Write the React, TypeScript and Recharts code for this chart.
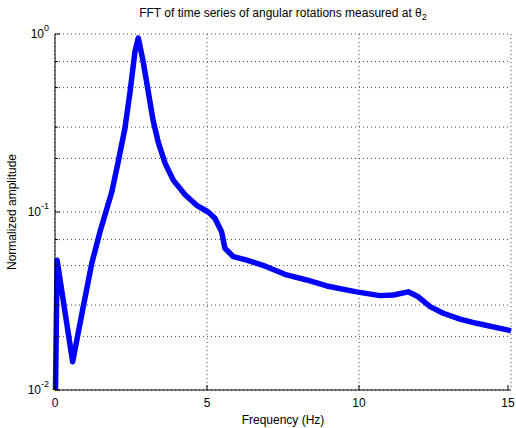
import React from 'react';
import { LineChart, Line, XAxis, YAxis, CartesianGrid } from 'recharts';

// values (log amplitude)
const freqHz = [
  0, 0.07, 0.58, 0.93, 1.21, 1.48, 1.87, 2.08, 2.30, 2.47, 2.63, 2.74, 2.90, 3.02,
  3.13, 3.23, 3.40, 3.62, 3.89, 4.28, 4.66, 5.04, 5.26, 5.48, 5.59, 5.87, 6.31, 6.96,
  7.62, 8.28, 8.94, 9.92, 10.69, 11.13, 11.62, 11.95, 12.34, 12.77, 13.32, 13.87,
  14.91, 15,
];
const amplitude = [
  0.006, 0.0535, 0.0144, 0.0294, 0.0515, 0.0774, 0.13, 0.192, 0.295, 0.474, 0.796,
  0.95, 0.7, 0.53, 0.41, 0.325, 0.245, 0.188, 0.151, 0.125, 0.109, 0.1, 0.0923,
  0.0774, 0.0625, 0.0561, 0.0537, 0.0493, 0.0443, 0.0415, 0.0384, 0.0356, 0.0339,
  0.0342, 0.0356, 0.0334, 0.0294, 0.027, 0.025, 0.0237, 0.0217, 0.0215,
];
const xTicks = [0, 5, 10, 15];
const yTicks = [
  0.01, 0.02, 0.03, 0.04, 0.05, 0.06, 0.07, 0.08, 0.09,
  0.1, 0.2, 0.3, 0.4, 0.5, 0.6, 0.7, 0.8, 0.9, 1,
];
const yMajor: Record<string, string> = { '0.01': '-2', '0.1': '-1', '1': '0' };

const data = freqHz.map((f, i) => ({ f, amp: amplitude[i] }));

const FONT = '"Liberation Sans", Arial, sans-serif';

const LeftTick = ({ x, y, payload }: any) => {
  const exp = yMajor[String(payload.value)];
  return (
    <g>
      <line x1={x} x2={x + (exp ? 5 : 3)} y1={y} y2={y} stroke="#000" />
      {exp && (
        <text x={x - 6} y={y + 4} textAnchor="end" fontSize={12} fill="#000" fontFamily={FONT}>
          <tspan>10</tspan>
          <tspan dy={-7} fontSize={9}>{exp}</tspan>
        </text>
      )}
    </g>
  );
};

const RightTick = ({ x, y, payload }: any) => {
  const major = yMajor[String(payload.value)];
  return <line x1={x} x2={x - (major ? 5 : 3)} y1={y} y2={y} stroke="#000" />;
};

const BottomTick = ({ x, y, payload }: any) => (
  <g>
    <line x1={x} x2={x} y1={y} y2={y - 5} stroke="#000" />
    <text x={x} y={y + 17} textAnchor="middle" fontSize={12} fill="#000" fontFamily={FONT}>
      {payload.value}
    </text>
  </g>
);

const TopTick = ({ x, y }: any) => <line x1={x} x2={x} y1={y} y2={y + 5} stroke="#000" />;

export default function App() {
  return (
    <div style={{ position: 'absolute', left: 0, top: 0, width: 516, height: 428, background: '#fff', fontFamily: FONT }}>
      <div style={{ position: 'absolute', left: 55, width: 456, top: 6, textAlign: 'center', fontSize: 12, color: '#000' }}>
        FFT of time series of angular rotations measured at θ<sub style={{ fontSize: 9 }}>2</sub>
      </div>
      <div style={{ position: 'absolute', left: 55, width: 456, top: 413, textAlign: 'center', fontSize: 12, color: '#000' }}>
        Frequency (Hz)
      </div>
      <div
        style={{
          position: 'absolute', left: 12, top: 212, fontSize: 12, color: '#000', whiteSpace: 'nowrap',
          transform: 'translate(-50%, -50%) rotate(-90deg)',
        }}
      >
        Normalized amplitude
      </div>
      <LineChart width={516} height={428} data={data} margin={{ top: 34, right: 5, left: 0, bottom: 0 }}>
        <CartesianGrid stroke="#444" strokeDasharray="1 3" />
        <XAxis
          dataKey="f" type="number" domain={[0, 15]} ticks={xTicks} height={38}
          axisLine={{ stroke: '#000' }} tickLine={false} tickSize={0} tickMargin={0} tick={<BottomTick />}
        />
        <XAxis
          xAxisId="top" orientation="top" dataKey="f" type="number" domain={[0, 15]} ticks={[5, 10]} height={0}
          axisLine={{ stroke: '#000' }} tickLine={false} tickSize={0} tickMargin={0} tick={<TopTick />}
        />
        <YAxis
          scale="log" type="number" domain={[0.01, 1]} ticks={yTicks} allowDataOverflow width={55}
          axisLine={{ stroke: '#000' }} tickLine={false} tickSize={0} tickMargin={0} tick={<LeftTick />}
        />
        <YAxis
          yAxisId="right" orientation="right" scale="log" type="number" domain={[0.01, 1]} ticks={yTicks}
          allowDataOverflow width={0} axisLine={{ stroke: '#000' }} tickLine={false} tickSize={0} tickMargin={0}
          tick={<RightTick />}
        />
        <Line
          dataKey="amp" type="linear" stroke="#0000ff" strokeWidth={5.5} strokeLinejoin="round" dot={false}
          isAnimationActive={false}
        />
      </LineChart>
    </div>
  );
}
